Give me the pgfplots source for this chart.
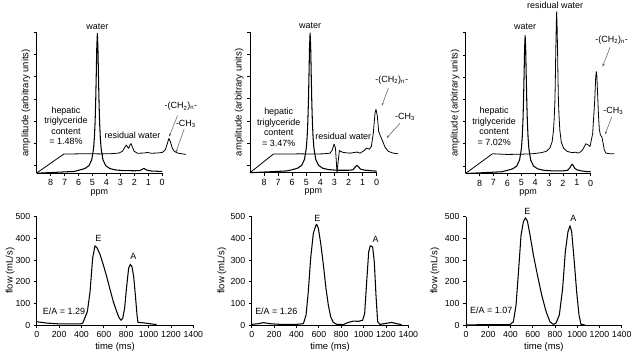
\documentclass[border=0pt]{standalone}
\usepackage{fontspec}
\setmainfont{Liberation Sans}
\usepackage{pgfplots}
\pgfplotsset{compat=1.18}
\usetikzlibrary{arrows.meta}
\tikzset{
  ann/.style={font=\fontsize{9}{10.5}\selectfont, inner sep=0pt},
  arr/.style={-{Stealth[length=3bp,width=2.2bp]}, black!65, line width=0.5bp},
}
\pgfplotsset{
  /pgf/number format/1000 sep={},
  /pgf/number format/assume math mode=true,
  trace/.style={black, line width=1.05bp, line join=round},
  nmr/.style={
    scale only axis, height=140.5bp, xmin=0, xmax=9, x dir=reverse,
    ymin=-0.33, ymax=6, enlargelimits=false, clip=false,
    axis x line*=bottom, axis y line*=left,
    axis line style={-, line width=0.9bp},
    xtick={0,...,8}, ytick={0,...,6}, yticklabels={},
    tick align=outside, major tick length=3bp,
    tick style={black, line width=0.8bp},
    tick label style={font=\fontsize{9}{10}\selectfont},
    xlabel={ppm}, ylabel={amplitude (arbitrary units)},
    xlabel style={at={(axis description cs:0.5,-0.14)}, anchor=center, font=\fontsize{9}{10}\selectfont},
    ylabel style={at={(axis description cs:-0.085,0.5)}, anchor=center, font=\fontsize{9.5}{10}\selectfont},
  },
  flow/.style={
    scale only axis, width=156.6bp, height=108.3bp,
    xmin=0, xmax=1400, ymin=0, ymax=500, enlargelimits=false, clip=false,
    axis x line*=bottom, axis y line*=left,
    axis line style={-, line width=0.9bp},
    xtick={0,200,...,1400}, ytick={0,100,...,500},
    tick align=outside, major tick length=3bp,
    tick style={black, line width=0.8bp},
    tick label style={font=\fontsize{8.8}{10}\selectfont},
    xlabel={time (ms)}, ylabel={flow (mL/s)},
    xlabel style={at={(axis description cs:0.5,-0.2)}, anchor=center, font=\fontsize{9.5}{10}\selectfont},
    ylabel style={anchor=center, font=\fontsize{9.5}{10}\selectfont},
  },
}
\begin{document}
\begin{tikzpicture}
\useasboundingbox (0bp,0bp) rectangle (640bp,-352bp);

% ---------------- top panel 1 ----------------
\begin{axis}[nmr, at={(36.7bp,-173bp)}, anchor=south west, width=125.5bp]
\addplot[trace] coordinates {(9.0,-0.34) (8.0,-0.31) (7.0,-0.28) (6.3,-0.26) (5.95,-0.20) (5.55,-0.13) (5.25,0.0) (5.05,0.27) (4.92,0.78) (4.86,1.29) (4.81,1.99) (4.77,2.86) (4.73,4.05) (4.69,5.34) (4.65,5.96) (4.61,5.34) (4.57,4.05) (4.53,2.86) (4.49,1.99) (4.44,1.29) (4.38,0.78) (4.25,0.27) (4.05,0.0) (3.75,-0.13) (3.35,-0.19) (2.8,-0.22) (2.0,-0.23) (1.6,-0.22) (1.45,-0.17) (1.3,-0.12) (1.15,-0.19) (0.8,-0.24) (0.4,-0.25) (0.0,-0.26)};
\addplot[trace, line width=0.8bp] coordinates {(9.0,-0.33) (7.04,0.53)};
\addplot[trace, line width=0.8bp] coordinates {(7.04,0.53) (6.32,0.53) (5.37,0.54) (4.41,0.53) (3.69,0.54) (3.09,0.57) (2.85,0.65) (2.68,0.83) (2.56,0.93) (2.47,0.83) (2.40,0.78) (2.30,0.95) (2.23,0.99) (2.13,0.83) (2.01,0.65) (1.77,0.56) (1.29,0.57) (1.05,0.60) (0.81,0.56) (0.34,0.57) (-0.02,0.60) (-0.22,0.71) (-0.36,0.98) (-0.48,1.23) (-0.60,1.05) (-0.72,0.80) (-0.86,0.65) (-1.10,0.57) (-1.46,0.53) (-1.70,0.51)};
\node[ann] at (axis cs:4.65,6.27) {water};
\node[ann, align=center] at (axis cs:6.9,1.8) {hepatic\\triglyceride\\content\\= 1.48\%};
\node[ann] at (axis cs:2.13,1.35) {residual water};
\node[ann] at (axis cs:-1.34,2.66) {-(CH\textsubscript{2})\textsubscript{n}-};
\node[ann] at (axis cs:-1.70,1.88) {-CH\textsubscript{3}};
\draw[arr] (axis cs:-1.10,2.26) -- (axis cs:-0.50,1.31);
\draw[arr] (axis cs:-1.58,1.65) -- (axis cs:-0.98,0.60);
\end{axis}

% ---------------- top panel 2 ----------------
\begin{axis}[nmr, at={(250bp,-172.7bp)}, anchor=south west, width=126.7bp]
\addplot[trace] coordinates {(9.0,-0.33) (8.0,-0.30) (7.0,-0.27) (6.4,-0.25) (6.03,-0.20) (5.63,-0.13) (5.33,0.0) (5.13,0.27) (5.00,0.78) (4.94,1.29) (4.89,1.99) (4.85,2.86) (4.81,4.05) (4.77,5.34) (4.73,5.96) (4.69,5.34) (4.65,4.05) (4.61,2.86) (4.57,1.99) (4.52,1.29) (4.46,0.78) (4.33,0.27) (4.13,0.0) (3.83,-0.13) (3.43,-0.19) (2.8,-0.22) (2.0,-0.22) (1.7,-0.2) (1.55,-0.1) (1.42,0.0) (1.3,-0.06) (1.15,-0.17) (0.8,-0.22) (0.4,-0.24) (0,-0.26)};
\addplot[trace, line width=0.8bp] coordinates {(9.0,-0.33) (7.34,0.51)};
\addplot[trace, line width=0.8bp] coordinates {(7.34,0.51) (6.39,0.51) (5.44,0.52) (4.50,0.51) (3.79,0.52) (3.31,0.55) (3.15,0.70) (3.03,0.96) (2.93,0.78) (2.86,0.10) (2.82,-0.34) (2.75,0.10) (2.65,0.67) (2.56,0.63) (2.37,0.58) (1.89,0.55) (1.42,0.60) (1.18,0.55) (0.88,0.67) (0.71,0.78) (0.52,0.73) (0.38,0.85) (0.24,1.45) (0.12,2.35) (0.05,2.53) (-0.05,2.20) (-0.14,1.53) (-0.26,1.33) (-0.43,1.08) (-0.59,0.82) (-0.83,0.63) (-1.18,0.55) (-1.54,0.52)};
\node[ann] at (axis cs:4.73,6.28) {water};
\node[ann, align=center] at (axis cs:6.96,1.72) {hepatic\\triglyceride\\content\\= 3.47\%};
\node[ann] at (axis cs:2.37,1.33) {residual water};
\node[ann] at (axis cs:-1.07,3.85) {-(CH\textsubscript{2})\textsubscript{n}-};
\node[ann] at (axis cs:-2.01,2.20) {-CH\textsubscript{3}};
\draw[arr] (axis cs:-0.83,3.48) -- (axis cs:-0.36,2.68);
\draw[arr] (axis cs:-1.66,1.90) -- (axis cs:-0.71,1.23);
\end{axis}

% ---------------- top panel 3 ----------------
\begin{axis}[nmr, at={(465.7bp,-173.3bp)}, anchor=south west, width=125bp]
\addplot[trace] coordinates {(9.0,-0.34) (8.0,-0.31) (7.0,-0.28) (6.4,-0.26) (6.02,-0.20) (5.62,-0.13) (5.32,0.0) (5.12,0.27) (4.99,0.78) (4.93,1.29) (4.88,1.99) (4.84,2.86) (4.80,4.0) (4.76,5.26) (4.72,5.88) (4.68,5.26) (4.64,4.0) (4.60,2.86) (4.56,1.99) (4.51,1.29) (4.45,0.78) (4.32,0.27) (4.12,0.0) (3.82,-0.13) (3.42,-0.19) (2.8,-0.22) (2.0,-0.22) (1.65,-0.19) (1.5,-0.08) (1.4,0.03) (1.33,0.08) (1.26,0.02) (1.15,-0.1) (1.0,-0.17) (0.7,-0.22) (0.3,-0.25) (0,-0.26)};
\addplot[trace, line width=0.8bp] coordinates {(9.0,-0.33) (7.07,0.55)};
\addplot[trace, line width=0.8bp] coordinates {(7.07,0.55) (6.0,0.52) (5.0,0.53) (4.2,0.55) (3.55,0.60) (3.2,0.66) (2.95,0.80) (2.78,1.08) (2.68,1.60) (2.63,2.13) (2.58,2.85) (2.55,3.75) (2.52,4.98) (2.48,6.31) (2.45,6.95) (2.42,6.31) (2.38,4.98) (2.35,3.75) (2.32,2.85) (2.27,2.13) (2.22,1.60) (2.12,1.08) (1.95,0.80) (1.70,0.66) (1.35,0.60) (1.1,0.62) (0.89,0.58) (0.7,0.65) (0.53,0.78) (0.36,1.0) (0.22,0.96) (0.05,0.88) (-0.14,1.45) (-0.29,2.95) (-0.36,4.0) (-0.40,4.25) (-0.44,4.1) (-0.50,3.2) (-0.56,2.30) (-0.62,1.65) (-0.70,1.40) (-0.81,1.30) (-0.90,1.0) (-0.98,0.72) (-1.10,0.58) (-1.39,0.55) (-1.70,0.55)};
\node[ann] at (axis cs:4.72,6.28) {water};
\node[ann] at (axis cs:2.56,7.23) {residual water};
\node[ann, align=center] at (axis cs:6.95,1.78) {hepatic\\triglyceride\\content\\= 7.02\%};
\node[ann] at (axis cs:-1.51,5.65) {-(CH\textsubscript{2})\textsubscript{n}-};
\node[ann] at (axis cs:-1.63,2.50) {-CH\textsubscript{3}};
\draw[arr] (axis cs:-1.39,5.35) -- (axis cs:-0.86,4.48);
\draw[arr] (axis cs:-1.51,2.20) -- (axis cs:-1.03,1.42);
\end{axis}

% ---------------- bottom panel 1 ----------------
\begin{axis}[flow, at={(36.7bp,-325bp)}, anchor=south west,
  ylabel style={at={(axis description cs:-0.17,0.5)}}]
\addplot[trace] coordinates {(0,15) (89,9) (208,5) (387,5) (411,8) (453,62) (477,154) (500,308) (521,366) (542,354) (566,326) (596,277) (626,223) (655,165) (685,108) (715,62) (736,34) (754,22) (769,31) (786,77) (804,177) (822,262) (837,280) (852,269) (867,223) (882,138) (897,46) (905,12) (938,11) (1013,6) (1072,2)};
\node[ann] at (axis cs:551,400) {E};
\node[ann] at (axis cs:864,315) {A};
\node[ann, anchor=west] at (axis cs:54,65) {E/A = 1.29};
\end{axis}

% ---------------- bottom panel 2 ----------------
\begin{axis}[flow, at={(251.7bp,-325bp)}, anchor=south west,
  ylabel style={at={(axis description cs:-0.19,0.5)}}]
\addplot[trace] coordinates {(0,3) (60,6) (104,11) (164,6) (253,3) (402,3) (462,6) (486,46) (506,154) (527,308) (551,423) (572,458) (581,465) (596,446) (617,377) (641,277) (664,169) (685,92) (706,38) (730,12) (760,3) (819,2) (864,12) (909,18) (953,17) (992,22) (1010,54) (1028,200) (1046,338) (1060,366) (1081,361) (1096,292) (1111,138) (1126,15) (1147,3) (1206,8) (1251,12) (1296,6) (1340,2)};
\node[ann] at (axis cs:587,492) {E};
\node[ann] at (axis cs:1108,395) {A};
\node[ann, anchor=west] at (axis cs:30,65) {E/A = 1.26};
\end{axis}

% ---------------- bottom panel 3 ----------------
\begin{axis}[flow, at={(466bp,-325bp)}, anchor=south west, width=155.7bp,
  ylabel style={at={(axis description cs:-0.2,0.5)}}]
\addplot[trace] coordinates {(0,0) (186,2) (396,2) (426,15) (450,92) (474,261) (495,415) (516,477) (534,495) (552,480) (576,415) (606,323) (642,231) (681,138) (720,62) (755,15) (785,3) (809,8) (839,46) (869,169) (893,338) (917,431) (935,458) (950,431) (971,308) (995,154) (1016,46) (1034,3) (1070,0)};
\node[ann] at (axis cs:552,526) {E};
\node[ann] at (axis cs:965,492) {A};
\node[ann, anchor=west] at (axis cs:36,69) {E/A = 1.07};
\end{axis}
\end{tikzpicture}
\end{document}
